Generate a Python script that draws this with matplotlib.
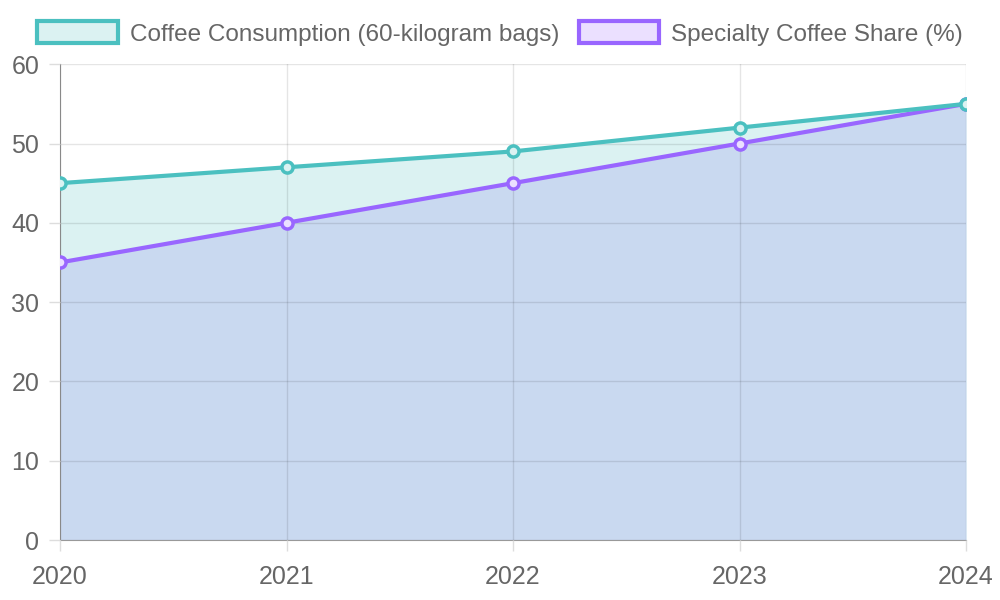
import matplotlib
matplotlib.use('Agg')

import matplotlib.pyplot as plt
from matplotlib.patches import Patch

plt.rcParams['font.family'] = ['Liberation Sans', 'DejaVu Sans']

# 数据
years = ['2020', '2021', '2022', '2023', '2024']
consumption = [45, 47, 49, 52, 55]
specialty = [35, 40, 45, 50, 55]

teal = '#4bc0c0'
purple = '#9966ff'
x = list(range(len(years)))

fig = plt.figure(figsize=(10, 6), dpi=100)
ax = fig.add_axes([0.06, 0.1, 0.906, 0.793])

ax.fill_between(x, 0, consumption, color='#dbf2f2', lw=0, zorder=1)
ax.fill_between(x, 0, specialty, color='#c9d9f0', lw=0, zorder=1.5)

ax.plot(x, specialty, color=purple, lw=3, marker='o', ms=8, mfc='#ebe0ff',
        mec=purple, mew=2.5, zorder=3)
ax.plot(x, consumption, color=teal, lw=3, marker='o', ms=8, mfc='#dbf2f2',
        mec=teal, mew=2.5, zorder=3)

ax.set_xlim(0, 4)
ax.set_ylim(0, 60)
ax.set_xticks(x)
ax.set_xticklabels(years)
ax.set_yticks(range(0, 61, 10))
ax.grid(True, color='#000000', alpha=0.1, lw=1, zorder=2)
ax.set_axisbelow(False)
ax.tick_params(colors='#666666', labelsize=18, length=8, width=1)
ax.tick_params(axis='x', pad=10)
ax.tick_params(axis='y', pad=7)
ax.tick_params(axis='both', color='#dddddd')
for s in ['top', 'right']:
    ax.spines[s].set_visible(False)
ax.spines['left'].set_color('#999999')
ax.spines['bottom'].set_color('#999999')

handles = [Patch(facecolor='#dbf2f2', edgecolor=teal, lw=3),
           Patch(facecolor='#ebe0ff', edgecolor=purple, lw=3)]
fig.legend(handles, ['Coffee Consumption (60-kilogram bags)', 'Specialty Coffee Share (%)'],
           loc='center', bbox_to_anchor=(0.5, 0.944), ncol=2, frameon=False,
           fontsize=17.5, labelcolor='#666666', handlelength=3.3, handleheight=1.0,
           handletextpad=0.5, columnspacing=0.8)

fig.savefig('out.png', dpi=100)
